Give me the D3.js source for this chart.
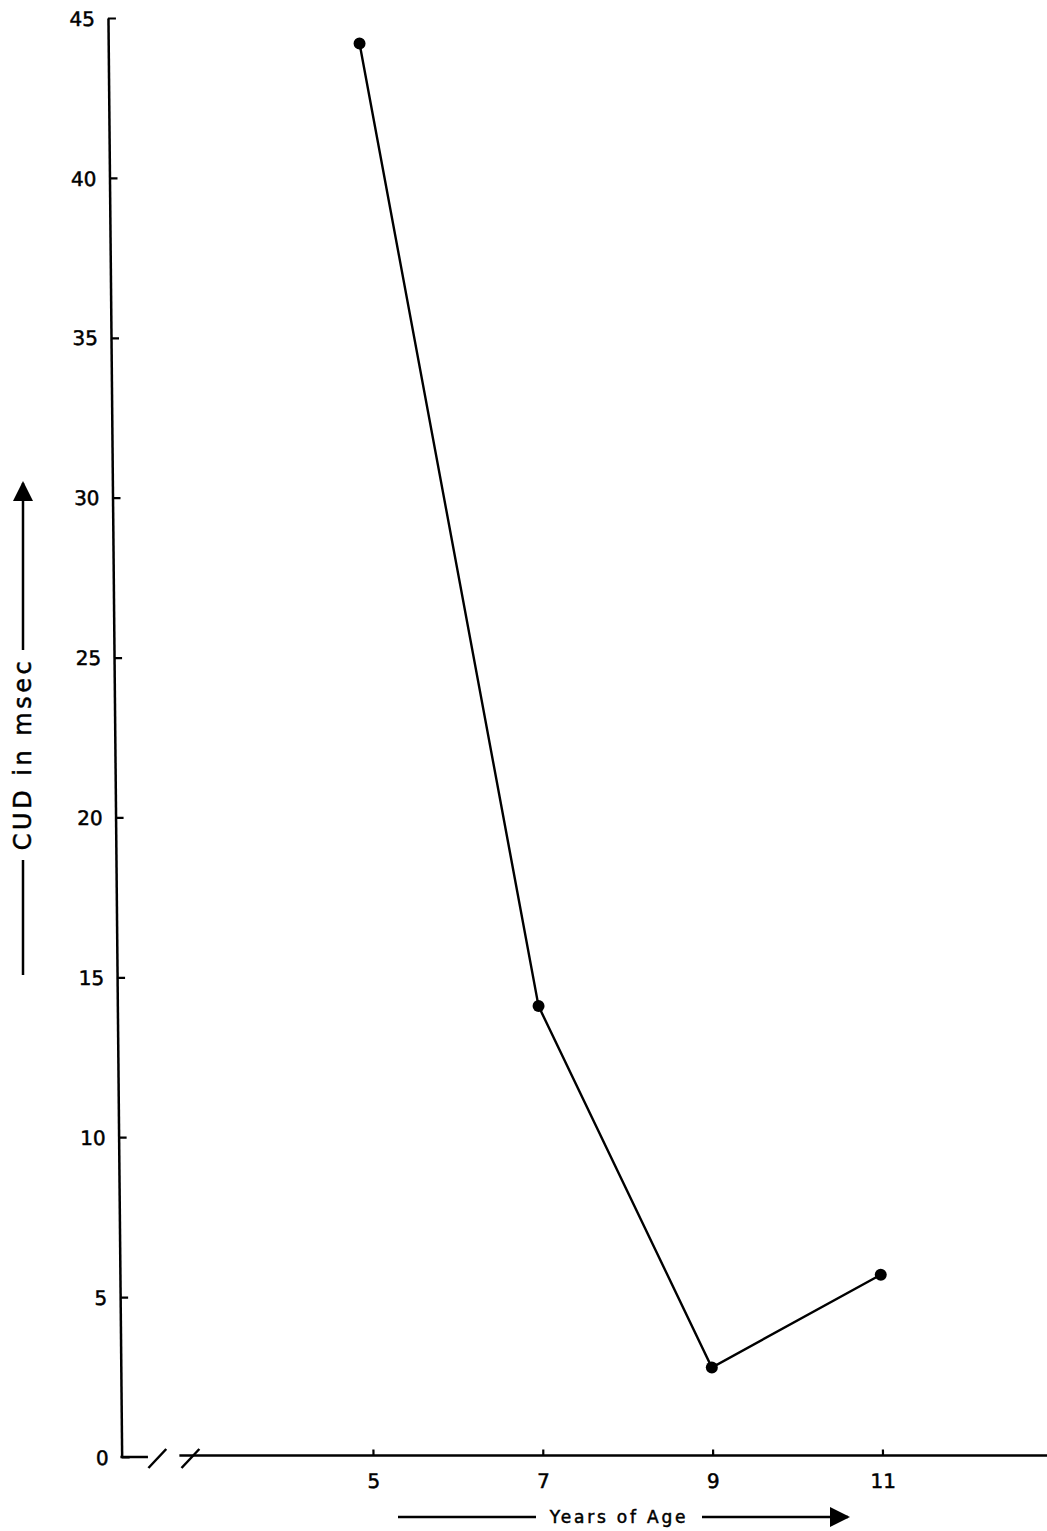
<!DOCTYPE html>
<html>
<head>
<meta charset="utf-8">
<script src="https://cdn.jsdelivr.net/npm/d3@7"></script>
<style>
  html, body { margin: 0; padding: 0; background: #fff; }
  svg { display: block; }
  text { font-family: "DejaVu Sans", sans-serif; fill: #000; stroke: #000; stroke-width: 0.5px; }
</style>
</head>
<body>
<script>
// Mean CUD (msec) by age group
const ages = [5, 7, 9, 11];
const cud = [44.2, 14.1, 2.8, 5.7];
const yTicks = [0, 5, 10, 15, 20, 25, 30, 35, 40, 45];
const xTicks = [5, 7, 9, 11];
const xTickLabels = ["5", "7", "9", "11"];
// x-axis extent and the break drawn near the origin (in years)
const xAxisStart = 2.04, breakLeft = 2.35, breakRight = 2.72, xAxisEnd = 12.94;
const slashAt = [2.46, 2.85];

const W = 1047, H = 1531;
const baseY = 1457, topY = 18;

const svg = d3.select("body").append("svg")
  .attr("width", W).attr("height", H);

const x = d3.scaleLinear().domain([5, 11]).range([373, 882.5]);
const y = d3.scaleLinear().domain([0, 45]).range([baseY, topY]);

// the drawing leans slightly: vertical strokes drift left toward the top
const plot = svg.append("g")
  .attr("transform", `translate(0,${baseY}) skewX(0.545) translate(0,${-baseY})`);

// y axis: ticks point inward, labels on the left
const yAxis = plot.append("g")
  .attr("transform", `translate(${x(xAxisStart)},0)`)
  .call(d3.axisLeft(y).tickValues(yTicks).tickSizeInner(-8).tickSizeOuter(0).tickPadding(13));
yAxis.select(".domain").attr("stroke", "#000").attr("stroke-width", 2.5);
yAxis.selectAll(".tick line").attr("stroke", "#000").attr("stroke-width", 2.2);
yAxis.selectAll(".tick text")
  .style("font-family", "'DejaVu Sans', sans-serif")
  .style("font-size", "20px")
  .attr("dy", "0.36em");

// x axis: short baseline, break marks, then the long baseline
const xa = plot.append("g");
xa.append("line")
  .attr("x1", x(xAxisStart) - 1.2).attr("x2", x(breakLeft))
  .attr("y1", baseY).attr("y2", baseY)
  .attr("stroke", "#000").attr("stroke-width", 2.5);
xa.append("line")
  .attr("x1", x(breakRight)).attr("x2", x(xAxisEnd))
  .attr("y1", baseY - 1.5).attr("y2", baseY - 1.5)
  .attr("stroke", "#000").attr("stroke-width", 2.5);
xa.selectAll("line.slash").data(slashAt).join("line")
  .attr("class", "slash")
  .attr("x1", d => x(d) - 9).attr("y1", baseY + 11)
  .attr("x2", d => x(d) + 9).attr("y2", baseY - 8)
  .attr("stroke", "#000").attr("stroke-width", 2.5);

const xAxis = xa.append("g")
  .attr("transform", `translate(0,${baseY - 1.5})`)
  .call(d3.axisBottom(x).tickValues(xTicks).tickSizeInner(-6).tickSizeOuter(0).tickPadding(18)
    .tickFormat((d, i) => xTickLabels[i]));
xAxis.select(".domain").remove();
xAxis.selectAll(".tick line").attr("stroke", "#000").attr("stroke-width", 2.2);
xAxis.selectAll(".tick text")
  .style("font-family", "'DejaVu Sans', sans-serif")
  .style("font-size", "20px");

// data line and points
const pts = ages.map((a, i) => [a, cud[i]]);
plot.append("path")
  .datum(pts)
  .attr("fill", "none")
  .attr("stroke", "#000")
  .attr("stroke-width", 2.4)
  .attr("d", d3.line().x(d => x(d[0])).y(d => y(d[1])));
plot.selectAll("circle.pt").data(pts).join("circle")
  .attr("class", "pt")
  .attr("cx", d => x(d[0])).attr("cy", d => y(d[1]))
  .attr("r", 6).attr("fill", "#000");

// axis titles with arrow leaders
const defs = svg.append("defs");
function arrowHead(id) {
  defs.append("marker")
    .attr("id", id)
    .attr("viewBox", "0 0 10 10").attr("refX", 9).attr("refY", 5)
    .attr("markerUnits", "userSpaceOnUse")
    .attr("markerWidth", 22).attr("markerHeight", 20)
    .attr("orient", "auto")
    .append("path").attr("d", "M0,0 L10,5 L0,10 Z").attr("fill", "#000");
}
arrowHead("ahX");
arrowHead("ahY");

// x title
const tx = svg.append("g");
tx.append("line").attr("x1", 398).attr("x2", 536).attr("y1", 1517).attr("y2", 1517)
  .attr("stroke", "#000").attr("stroke-width", 2.5);
tx.append("text").attr("x", 619).attr("y", 1517).attr("dy", "0.35em")
  .attr("text-anchor", "middle")
  .style("font-size", "17px").style("letter-spacing", "2.8px")
  .text("Years of Age");
tx.append("line").attr("x1", 702).attr("x2", 848).attr("y1", 1517).attr("y2", 1517)
  .attr("stroke", "#000").attr("stroke-width", 2.5)
  .attr("marker-end", "url(#ahX)");

// y title
const ty = svg.append("g");
ty.append("line").attr("x1", 23).attr("x2", 23).attr("y1", 975).attr("y2", 860)
  .attr("stroke", "#000").attr("stroke-width", 2.5);
ty.append("text").attr("transform", "translate(23,754) rotate(-90)")
  .attr("dy", "0.35em").attr("text-anchor", "middle")
  .style("font-size", "24px").style("letter-spacing", "3.5px")
  .text("CUD in msec");
ty.append("line").attr("x1", 23).attr("x2", 23).attr("y1", 650).attr("y2", 483)
  .attr("stroke", "#000").attr("stroke-width", 2.5)
  .attr("marker-end", "url(#ahY)");
</script>
</body>
</html>
